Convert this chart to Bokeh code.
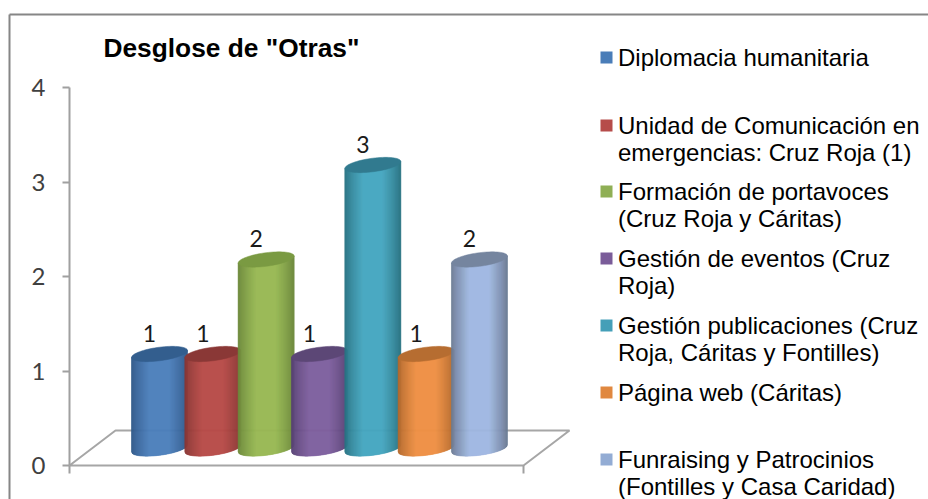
import math
from bokeh.core.properties import value
from bokeh.embed import file_html
from bokeh.models import FixedTicker, LinearAxis, Range1d
from bokeh.plotting import figure
from bokeh.resources import INLINE

# ---- data
title = 'Desglose de "Otras"'
categories = ["Diplomacia humanitaria",
              "Unidad de Comunicación en\nemergencias: Cruz Roja (1)",
              "Formación de portavoces\n(Cruz Roja y Cáritas)",
              "Gestión de eventos (Cruz\nRoja)",
              "Gestión publicaciones (Cruz\nRoja, Cáritas y Fontilles)",
              "Página web (Cáritas)",
              "Funraising y Patrocinios\n(Fontilles y Casa Caridad)"]
values = [1, 1, 2, 1, 3, 1, 2]
y_ticks = [0, 1, 2, 3, 4]
light = ["#4A7EBB", "#B94C49", "#98B954", "#7D5FA0", "#46A6C0", "#EE9145", "#A0B6E0"]
dark = ["#2C5585", "#863533", "#6A8639", "#553F70", "#26707F", "#AF662B", "#67778F"]
top = ["#335E8E", "#8A3836", "#7A9A42", "#5C4776", "#317A8F", "#B66D31", "#75859F"]
swatch = ["#4A7DB8", "#B64C4A", "#8FAF55", "#7A5C99", "#449FB8", "#E08840", "#93ACD4"]
legend_y = [57, 125, 191, 258, 325, 392, 459]

# ---- layout: pixels of the picture
W, H = 928, 499
X0, DX, Y0, DY = 159.0, 53.33, 465.0, 94.5


def dx(px):
    return (px - X0) / DX


def dy(py):
    return (Y0 - py) / DY


p = figure(width=W, height=H, output_backend="svg", toolbar_location=None,
           x_axis_location=None, y_axis_location=None, min_border=0,
           x_range=Range1d(dx(0), dx(W)), y_range=Range1d(dy(H), dy(0)))
p.outline_line_color = None
p.grid.visible = False

# chart border
p.line([dx(9), dx(9)], [dy(H), dy(14)], line_color="#868686", line_width=2)
p.line([dx(9), dx(W)], [dy(14), dy(14)], line_color="#868686", line_width=2)

# floor and horizontal axis
GREY = "#A0A0A0"
p.line([dx(69), dx(115), dx(569), dx(523), dx(69)],
       [dy(465), dy(430), dy(430), dy(465), dy(465)],
       line_color="#A6A6A6", line_width=2)
p.segment([dx(69), dx(523)], [dy(465), dy(465)], [dx(69), dx(523)], [dy(473), dy(473)],
          line_color=GREY, line_width=2)

left = LinearAxis(fixed_location=dx(69), ticker=FixedTicker(ticks=y_ticks), bounds=(0, 4))
left.axis_line_color = GREY
left.axis_line_width = 2
left.major_tick_line_color = GREY
left.major_tick_line_width = 2
left.major_tick_in = 0
left.major_tick_out = 7
left.minor_tick_line_color = None
left.major_label_text_font = "Lato"
left.major_label_text_font_size = "24px"
left.major_label_text_color = "#404040"
left.major_label_standoff = 17
p.add_layout(left, "left")


def mix(a, b, f):
    ca = [int(a[k:k + 2], 16) for k in (1, 3, 5)]
    cb = [int(b[k:k + 2], 16) for k in (1, 3, 5)]
    return "#%02x%02x%02x" % tuple(round(u + (v - u) * f) for u, v in zip(ca, cb))


# cylinders
RX = 28.0 / DX          # half width, x units
RY = 6.8 / DY           # ellipse half height, y units
SLOPE = 3.5 / DY        # rise of ellipse from centre to right end, y units
BASE = 0.18             # floor offset of the cylinder foot, y units
STRIPS = 56

for i, v in enumerate(values):
    xs, ys, cs = [], [], []
    for k in range(STRIPS):
        u0 = -1 + 2 * k / STRIPS
        u1 = -1 + 2 * (k + 1) / STRIPS
        um = (u0 + u1) / 2
        f = min(1.0, (1 - abs(um)) / 0.65) ** 0.8
        xs.append([i + u0 * RX, i + u1 * RX, i + u1 * RX, i + u0 * RX])
        ys.append([v + BASE + SLOPE * u0, v + BASE + SLOPE * u1,
                   BASE + SLOPE * u1 - RY * math.sqrt(max(0.0, 1 - u1 * u1)),
                   BASE + SLOPE * u0 - RY * math.sqrt(max(0.0, 1 - u0 * u0))])
        cs.append(mix(dark[i], light[i], f))
    p.patches(xs, ys, fill_color=cs, line_color=cs, line_width=0.6)
    ang = [2 * math.pi * t / 72 for t in range(72)]
    p.patch([i + RX * math.cos(t) for t in ang],
            [v + BASE + SLOPE * math.cos(t) + RY * math.sin(t) for t in ang],
            fill_color=top[i], line_color=top[i], line_width=0.5)

# data labels
p.text([i - 10 / DX for i in range(len(values))], [v + BASE + 20.5 / DY for v in values],
       text=[str(v) for v in values], text_font=value("Lato"), text_font_size="23px",
       text_color="#1a1a1a", text_align="center", text_baseline="middle")

# title
p.text([dx(103)], [dy(47)], text=[title], text_font=value("Liberation Sans"),
       text_font_style="bold", text_font_size="26.3px", text_color="#000000",
       text_align="left", text_baseline="middle")

# legend
p.rect([dx(606)] * 7, [dy(y) for y in legend_y], width=12, height=12,
       width_units="screen", height_units="screen", fill_color=swatch, line_color=None)
tx, ty, tt = [], [], []
for y, c in zip(legend_y, categories):
    for n, line in enumerate(c.split("\n")):
        tx.append(dx(617.5))
        ty.append(dy(y + n * 27.3))
        tt.append(line)
p.text(tx, ty, text=tt, text_font=value("Liberation Sans"), text_font_size="24px",
       text_color="#000000", text_align="left", text_baseline="middle")

open("out.html", "w").write(file_html(p, INLINE))
